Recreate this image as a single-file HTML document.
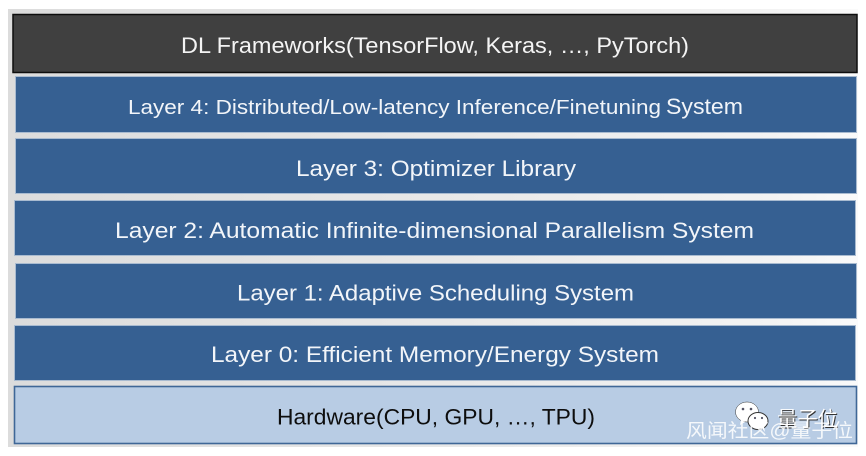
<!DOCTYPE html>
<html><head><meta charset="utf-8"><style>
html,body{margin:0;padding:0;background:#fff;width:866px;height:456px;overflow:hidden}
svg{display:block}
text{font-family:"Liberation Sans","Noto Sans CJK SC",sans-serif}
</style></head><body>
<svg width="866" height="456" viewBox="0 0 866 456" xmlns="http://www.w3.org/2000/svg">
<defs>
<filter id="b" x="-2%" y="-10%" width="104%" height="120%"><feGaussianBlur stdDeviation="0.35"/></filter>
<linearGradient id="g" x1="0" y1="0" x2="1" y2="0">
<stop offset="0" stop-color="#dcdcdc"/><stop offset="0.5" stop-color="#e8e8e8"/><stop offset="0.9" stop-color="#f3f3f3"/><stop offset="1" stop-color="#fafafa"/>
</linearGradient>
</defs>
<rect x="8" y="9" width="850" height="438" fill="url(#g)"/>
<rect x="13" y="14.5" width="844" height="58" fill="#404040" stroke="#0d0d0d" stroke-width="1.5"/>
<g fill="#366092" stroke="#a9bbd0" stroke-width="1">
<rect x="15.5" y="76.5" width="841" height="56"/>
<rect x="15.5" y="138.5" width="841" height="55"/>
<rect x="14.5" y="200.5" width="841" height="55"/>
<rect x="15.5" y="263.5" width="841" height="55"/>
<rect x="14.5" y="325.5" width="841" height="55"/>
</g>
<rect x="14.5" y="386.5" width="842" height="57" fill="#b8cce4" stroke="#3f6797" stroke-width="1.6"/>
<g filter="url(#b)" font-size="22">
<text x="181" y="53" textLength="508" lengthAdjust="spacingAndGlyphs" fill="#f4f4f4">DL Frameworks(TensorFlow, Keras, …, PyTorch)</text>
<g fill="#f2f5f9">
<text x="128" y="114" textLength="533" lengthAdjust="spacingAndGlyphs" font-size="20.5">Layer 4: Distributed/Low-latency Inference/Finetuning</text>
<text x="666" y="114" textLength="77" lengthAdjust="spacingAndGlyphs" font-size="22.5">System</text>
<text x="296" y="176" textLength="280" lengthAdjust="spacingAndGlyphs">Layer 3: Optimizer Library</text>
<text x="115" y="238" textLength="639" lengthAdjust="spacingAndGlyphs">Layer 2: Automatic Infinite-dimensional Parallelism System</text>
<text x="237" y="300.5" textLength="397" lengthAdjust="spacingAndGlyphs">Layer 1: Adaptive Scheduling System</text>
<text x="211" y="362" textLength="448" lengthAdjust="spacingAndGlyphs">Layer 0: Efficient Memory/Energy System</text>
</g>
<text x="277" y="424.5" textLength="318" lengthAdjust="spacingAndGlyphs" fill="#111">Hardware(CPU, GPU, …, TPU)</text>
</g>
<!-- watermark -->
<g>
<ellipse cx="747" cy="412" rx="11.5" ry="10" fill="#fff" stroke="#333" stroke-width="0.5"/>
<path d="M741 420l-1 5 5-3z" fill="#fff"/>
<ellipse cx="758" cy="421" rx="10" ry="8.5" fill="#fff" stroke="#333" stroke-width="1"/>
<path d="M762 428l3 4-1-5z" fill="#fff"/>
<circle cx="743" cy="409" r="1.3" fill="#556"/><circle cx="751" cy="409" r="1.3" fill="#556"/>
<circle cx="755" cy="418" r="1.1" fill="#556"/><circle cx="762" cy="418" r="1.1" fill="#556"/>
</g>
<text x="777" y="426" font-size="20.5" textLength="61" lengthAdjust="spacingAndGlyphs" fill="#333" transform="translate(1 1)">量子位</text>
<text x="777" y="426" font-size="20.5" textLength="61" lengthAdjust="spacingAndGlyphs" fill="#fff">量子位</text>
<text x="686" y="437" font-size="19" textLength="167" lengthAdjust="spacingAndGlyphs" fill="#fff" fill-opacity="0.85">风闻社区@量子位</text>
</svg>
</body></html>
